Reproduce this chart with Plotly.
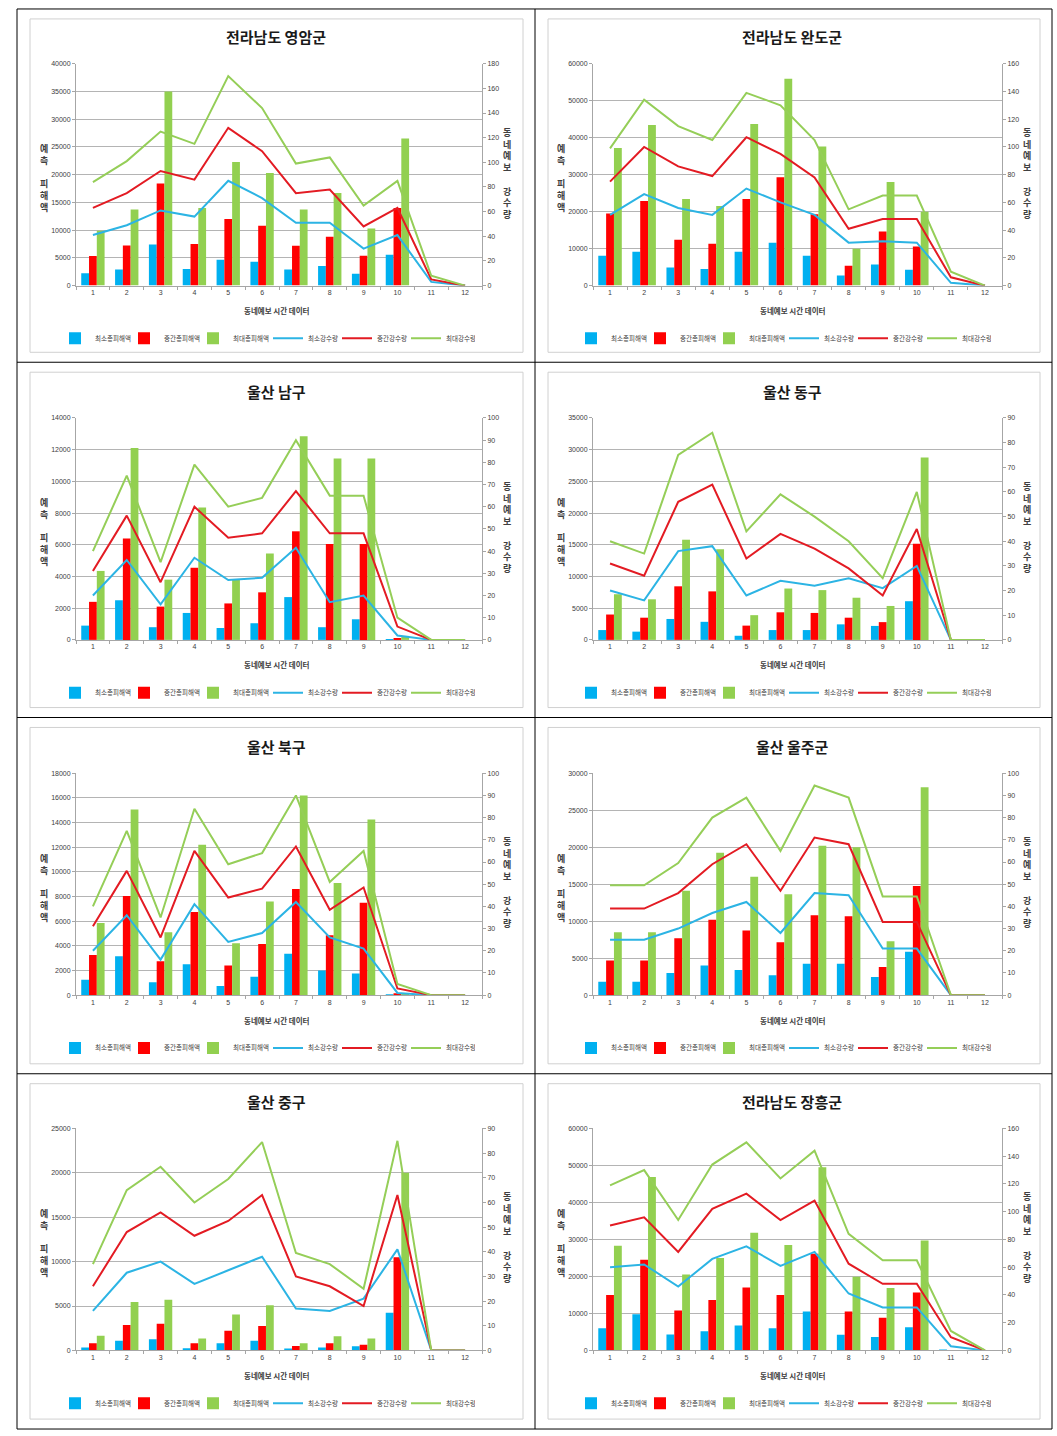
import plotly.graph_objects as go

W, H = 1057, 1436

categories = list(range(1, 13))
tick_labels = [str(c) for c in categories]

titles = ["전라남도 영암군", "전라남도 완도군", "울산 남구", "울산 동구",
          "울산 북구", "울산 울주군", "울산 중구", "전라남도 장흥군"]

bar_names = ["최소총피해액", "중간총피해액", "최대총피해액"]
line_names = ["최소강수량", "중간강수량", "최대강수량"]
x_title = "동네예보 시간 데이터"
left_title = "예<br>측<br><br>피<br>해<br>액"
right_title = "동<br>네<br>예<br>보<br><br>강<br>수<br>량"

# 전라남도 영암군
yeongam_min_dmg = [2250, 2900, 7400, 3000, 4650, 4300, 2900, 3550, 2150, 5550, 0, 0]
yeongam_mid_dmg = [5350, 7250, 18400, 7500, 12000, 10800, 7200, 8800, 5400, 14000, 0, 0]
yeongam_max_dmg = [9900, 13700, 35000, 14000, 22300, 20300, 13700, 16700, 10300, 26500, 0, 0]
yeongam_min_rain = [41, 49, 61, 56, 85, 71, 51, 51, 30, 41, 3, 0]
yeongam_mid_rain = [63, 75, 93, 86, 128, 109, 75, 78, 48, 63, 5, 0]
yeongam_max_rain = [84, 101, 125, 115, 170, 144, 99, 104, 65, 85, 8, 0]

# 전라남도 완도군
wando_min_dmg = [8050, 9150, 4900, 4500, 9150, 11600, 8050, 2750, 5700, 4300, 0, 0]
wando_mid_dmg = [19500, 22900, 12400, 11300, 23400, 29300, 19300, 5400, 14600, 10600, 0, 0]
wando_max_dmg = [37200, 43400, 23400, 21500, 43700, 55900, 37600, 10000, 28000, 20000, 0, 0]
wando_min_rain = [51, 66, 56, 51, 70, 60, 51, 31, 32, 31, 2, 0]
wando_mid_rain = [75, 100, 86, 79, 107, 95, 78, 41, 48, 48, 6, 0]
wando_max_rain = [99, 134, 115, 105, 139, 130, 105, 55, 65, 65, 10, 0]

# 울산 남구
namgu_min_dmg = [900, 2500, 800, 1700, 750, 1050, 2700, 800, 1300, 30, 0, 0]
namgu_mid_dmg = [2400, 6400, 2100, 4550, 2300, 3000, 6850, 6050, 6050, 60, 0, 0]
namgu_max_dmg = [4350, 12100, 3800, 8350, 3800, 5450, 12850, 11450, 11450, 250, 0, 0]
namgu_min_rain = [20, 36, 16, 37, 27, 28, 41.5, 17, 20, 2, 0, 0]
namgu_mid_rain = [31, 56, 26, 60, 46, 48, 67, 48, 48, 6, 0, 0]
namgu_max_rain = [40, 74, 35, 79, 60, 64, 90, 65, 65, 10, 0, 0]

# 울산 동구
donggu_min_dmg = [1550, 1300, 3300, 2850, 650, 1550, 1550, 2450, 2200, 6100, 0, 0]
donggu_mid_dmg = [4000, 3500, 8450, 7650, 2250, 4350, 4250, 3500, 2800, 15150, 0, 0]
donggu_max_dmg = [7200, 6400, 15800, 14300, 3900, 8100, 7850, 6650, 5350, 28750, 0, 0]
donggu_min_rain = [20, 16, 36, 38, 18, 24, 22, 25, 21, 30, 0, 0]
donggu_mid_rain = [31, 26, 56, 63, 33, 43, 37, 29, 18, 45, 0, 0]
donggu_max_rain = [40, 35, 75, 84, 44, 59, 50, 40, 25, 60, 0, 0]

# 울산 북구
bukgu_min_dmg = [1250, 3150, 1050, 2500, 750, 1500, 3350, 2000, 1750, 40, 0, 0]
bukgu_mid_dmg = [3250, 8050, 2750, 6750, 2400, 4150, 8600, 4850, 7500, 80, 0, 0]
bukgu_max_dmg = [5850, 15050, 5100, 12200, 4200, 7600, 16200, 9100, 14250, 150, 0, 0]
bukgu_min_rain = [20, 36, 16, 41, 24, 28, 42, 26, 21, 1, 0, 0]
bukgu_mid_rain = [31, 56, 26, 65, 44, 48, 67, 38.5, 48.5, 3, 0, 0]
bukgu_max_rain = [40, 74, 35, 84, 59, 64, 90, 51, 65, 5, 0, 0]

# 울산 울주군
ulju_min_dmg = [1800, 1800, 3000, 4000, 3400, 2700, 4250, 4250, 2450, 5850, 0, 0]
ulju_mid_dmg = [4700, 4700, 7700, 10200, 8750, 7150, 10800, 10650, 3800, 14750, 0, 0]
ulju_max_dmg = [8500, 8500, 14100, 19250, 16000, 13650, 20200, 20000, 7300, 28100, 0, 0]
ulju_min_rain = [25, 25, 30, 37, 42, 28, 46, 45, 21, 21, 0, 0]
ulju_mid_rain = [39, 39, 46, 59, 68, 47, 71, 68, 33, 33, 0, 0]
ulju_max_rain = [49.5, 49.5, 59.5, 80, 89, 65, 94.5, 89, 44.5, 44.5, 0, 0]

# 울산 중구
junggu_min_dmg = [330, 1100, 1250, 250, 800, 1100, 150, 330, 480, 4250, 0, 0]
junggu_mid_dmg = [800, 2850, 3000, 800, 2200, 2750, 500, 800, 650, 10500, 0, 0]
junggu_max_dmg = [1650, 5450, 5700, 1350, 4050, 5100, 800, 1600, 1350, 20000, 0, 0]
junggu_min_rain = [16, 31.5, 36, 27, 32.5, 38, 17, 16, 21, 41, 0, 0]
junggu_mid_rain = [26, 48, 56, 46.5, 52.5, 63, 30, 26, 18, 63, 0, 0]
junggu_max_rain = [35, 65, 74.5, 60, 69.5, 84.5, 39.5, 35, 25, 85, 0, 0]

# 전라남도 장흥군
jangheung_min_dmg = [6000, 9750, 4300, 5200, 6700, 6000, 10500, 4200, 3650, 6250, 150, 0]
jangheung_mid_dmg = [15000, 24500, 10800, 13600, 17000, 15000, 26150, 10500, 8850, 15650, 0, 0]
jangheung_max_dmg = [28300, 46900, 20500, 25000, 31800, 28500, 49500, 19900, 16900, 29700, 0, 0]
jangheung_min_rain = [60, 62, 46, 66, 75, 61, 71, 41, 31, 31, 3, 0]
jangheung_mid_rain = [90, 96, 71, 102, 113, 94, 108, 62.5, 48, 48, 9.5, 0]
jangheung_max_rain = [119, 130, 94, 134, 150, 124, 144, 84, 65, 65, 14, 0]

# axis ranges: (left max, left step, right max, right step)
axis_ranges = [(40000, 5000, 180, 20), (60000, 10000, 160, 20),
               (14000, 2000, 100, 10), (35000, 5000, 90, 10),
               (18000, 2000, 100, 10), (30000, 5000, 100, 10),
               (25000, 5000, 90, 10), (60000, 10000, 160, 20)]

panel_data = [
    (yeongam_min_dmg, yeongam_mid_dmg, yeongam_max_dmg, yeongam_min_rain, yeongam_mid_rain, yeongam_max_rain),
    (wando_min_dmg, wando_mid_dmg, wando_max_dmg, wando_min_rain, wando_mid_rain, wando_max_rain),
    (namgu_min_dmg, namgu_mid_dmg, namgu_max_dmg, namgu_min_rain, namgu_mid_rain, namgu_max_rain),
    (donggu_min_dmg, donggu_mid_dmg, donggu_max_dmg, donggu_min_rain, donggu_mid_rain, donggu_max_rain),
    (bukgu_min_dmg, bukgu_mid_dmg, bukgu_max_dmg, bukgu_min_rain, bukgu_mid_rain, bukgu_max_rain),
    (ulju_min_dmg, ulju_mid_dmg, ulju_max_dmg, ulju_min_rain, ulju_mid_rain, ulju_max_rain),
    (junggu_min_dmg, junggu_mid_dmg, junggu_max_dmg, junggu_min_rain, junggu_mid_rain, junggu_max_rain),
    (jangheung_min_dmg, jangheung_mid_dmg, jangheung_max_dmg, jangheung_min_rain, jangheung_mid_rain, jangheung_max_rain),
]

bar_colors = ["#00B0F0", "#FF0000", "#92D050"]
line_colors = ["#2CB4E4", "#E31B23", "#95CE58"]
bar_legend_widths = [24, 24, 30]
line_legend_widths = [24, 24, 24]

FONT = "Noto Sans CJK KR"
TICK_FONT = dict(family="Liberation Sans, Arial", size=7, color="#404040")
AXIS_COLOR = "#A6A6A6"
GRID_COLOR = "#B4B4B4"

# layout geometry (pixels)
col_x = [(76, 482), (593, 1002)]
row_top = [60, 416, 773, 1130]
plot_h = 223
col_center = [277, 793]
cell_x = [(17, 535), (535, 1052)]
cell_y = [5, 360, 717, 1075, 1432]


def px_x(v):
    return v / W


def px_y(v):
    return 1 - v / H


fig = go.Figure()
layout = dict(
    width=W, height=H,
    margin=dict(l=0, r=0, t=0, b=0),
    paper_bgcolor="white", plot_bgcolor="white",
    font=dict(family=FONT, color="#404040"),
    barmode="group", bargap=0.31, bargroupgap=0,
    annotations=[], shapes=[],
)

for i, data in enumerate(panel_data):
    r, c = divmod(i, 2)
    xa = "x" if i == 0 else f"x{i + 1}"
    ya = "y" if i == 0 else f"y{2 * i + 1}"
    ya2 = f"y{2 * i + 2}"
    leg = "legend" if i == 0 else f"legend{i + 1}"
    xkey = "xaxis" if i == 0 else f"xaxis{i + 1}"
    ykey = "yaxis" if i == 0 else f"yaxis{2 * i + 1}"
    y2key = f"yaxis{2 * i + 2}"
    lmax, lstep, rmax, rstep = axis_ranges[i]

    for name, vals, color, lw in zip(bar_names, data[:3], bar_colors, bar_legend_widths):
        fig.add_trace(go.Bar(x=categories, y=vals, name=name, marker=dict(color=color, line=dict(width=0)),
                             xaxis=xa, yaxis=ya, legend=leg, legendwidth=lw))
    for name, vals, color, lw in zip(line_names, data[3:], line_colors, line_legend_widths):
        fig.add_trace(go.Scatter(x=categories, y=vals, name=name, mode="lines",
                                 line=dict(color=color, width=2), xaxis=xa, yaxis=ya2,
                                 legend=leg, legendwidth=lw))

    x0, x1 = col_x[c]
    top = row_top[r]
    dom_y = [px_y(top + plot_h), px_y(top)]
    layout[xkey] = dict(domain=[px_x(x0), px_x(x1)], anchor=ya, range=[0.5, 12.5],
                        tickmode="array", tickvals=categories, ticktext=tick_labels,
                        ticks="", showgrid=False, zeroline=False, showline=True,
                        linecolor=AXIS_COLOR, linewidth=1, tickfont=TICK_FONT,
                        minor=dict(tickmode="array", tickvals=[k + 0.5 for k in range(0, 13)],
                                   ticks="outside", ticklen=3, tickcolor=AXIS_COLOR, showgrid=False),
                        fixedrange=True)
    layout[ykey] = dict(domain=dom_y, anchor=xa, range=[0, lmax], dtick=lstep, tick0=0,
                        tickformat="d",
                        showgrid=True, gridcolor=GRID_COLOR, gridwidth=1, zeroline=False,
                        showline=True, linecolor=AXIS_COLOR, ticks="outside", ticklen=3,
                        tickcolor=AXIS_COLOR, tickfont=TICK_FONT, fixedrange=True)
    layout[y2key] = dict(overlaying=ya, anchor=xa, side="right", range=[0, rmax], dtick=rstep, tick0=0,
                         tickformat="d",
                         showgrid=False, zeroline=False, showline=True, linecolor=AXIS_COLOR,
                         ticks="outside", ticklen=3, tickcolor=AXIS_COLOR, tickfont=TICK_FONT,
                         fixedrange=True)
    layout[leg] = dict(orientation="h", x=px_x(col_center[c] - 12), xanchor="center",
                       y=px_y(row_top[r] + 276), yanchor="middle",
                       font=dict(family=FONT, size=6.5, color="#404040"),
                       bgcolor="rgba(0,0,0,0)", itemwidth=30, traceorder="normal",
                       entrywidthmode="pixels",
                       tracegroupgap=0)

    # title
    layout["annotations"].append(dict(text=f"<b>{titles[i]}</b>", x=px_x(col_center[c] - 1), y=px_y(top - 27),
                                      xref="paper", yref="paper", showarrow=False,
                                      font=dict(family=FONT, size=15, color="#1a1a1a"),
                                      xanchor="center", yanchor="middle"))
    # x axis title
    layout["annotations"].append(dict(text=f"<b>{x_title}</b>", x=px_x(col_center[c]), y=px_y(top + 248),
                                      xref="paper", yref="paper", showarrow=False,
                                      font=dict(family=FONT, size=7.5, color="#404040"),
                                      xanchor="center", yanchor="middle"))
    # left axis title
    layout["annotations"].append(dict(text=f"<b>{left_title}</b>", x=px_x(x0 - 32), y=px_y(top + 115),
                                      xref="paper", yref="paper", showarrow=False,
                                      font=dict(family=FONT, size=9, color="#404040"),
                                      xanchor="center", yanchor="middle"))
    # right axis title
    layout["annotations"].append(dict(text=f"<b>{right_title}</b>", x=px_x(x1 + 25), y=px_y(top + 110),
                                      xref="paper", yref="paper", showarrow=False,
                                      font=dict(family=FONT, size=9, color="#404040"),
                                      xanchor="center", yanchor="middle"))
    # inner chart border
    cx0, cx1 = cell_x[c]
    cy0, cy1 = cell_y[r], cell_y[r + 1]
    layout["shapes"].append(dict(type="rect", xref="paper", yref="paper",
                                 x0=px_x(cx0 + 13), x1=px_x(cx1 - 12), y0=px_y(cy1 - 10), y1=px_y(cy0 + 10),
                                 line=dict(color="#D0D0D0", width=1), fillcolor="rgba(0,0,0,0)", layer="below"))

# table grid
for xv in [17, 535, 1052]:
    layout["shapes"].append(dict(type="line", xref="paper", yref="paper", x0=px_x(xv), x1=px_x(xv),
                                 y0=px_y(5), y1=px_y(1432), line=dict(color="#000000", width=1)))
for yv in cell_y:
    layout["shapes"].append(dict(type="line", xref="paper", yref="paper", x0=px_x(17), x1=px_x(1052),
                                 y0=px_y(yv), y1=px_y(yv), line=dict(color="#000000", width=1)))

fig.update_layout(**layout)
fig.write_html("out.html")
